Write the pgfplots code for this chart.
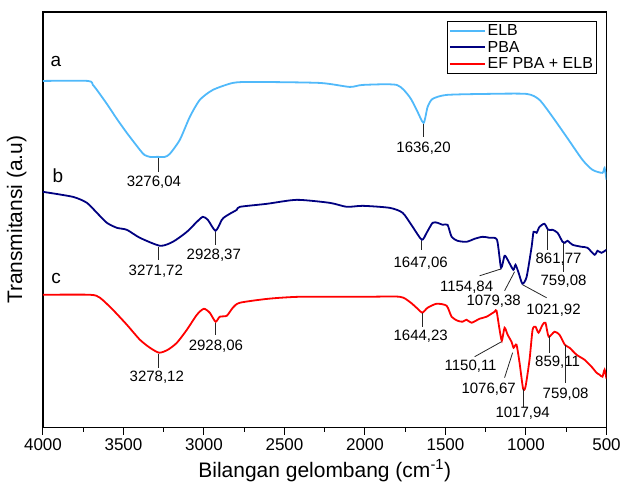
\documentclass[border=0pt]{standalone}
\usepackage{pgfplots}
\pgfplotsset{compat=1.18}
\usepackage{fontspec}
\setmainfont{Liberation Sans}
\definecolor{elb}{RGB}{80,185,250}
\definecolor{pba}{RGB}{0,0,128}
\definecolor{ef}{RGB}{255,0,0}
\begin{document}
\begin{tikzpicture}
\begin{axis}[
  scale only axis, width=564pt, height=416pt,
  xmin=500, xmax=4000, x dir=reverse,
  ymin=-428, ymax=-12,
  ytick=\empty,
  xtick={500,1000,...,4000},
  minor x tick num=1,
  xtick pos=left,
  tick align=outside,
  major tick length=7pt, minor tick length=4pt,
  tick style={black, line width=1pt},
  axis line style={line width=1.2pt},
  /pgf/number format/assume math mode=true,
  /pgf/number format/1000 sep={},
  xticklabel style={font=\fontsize{17}{20}\selectfont},
  xlabel={Bilangan gelombang (cm\textsuperscript{-1})},
  ylabel={Transmitansi (a.u)},
  xlabel style={font=\fontsize{21}{25}\selectfont, at={(axis description cs:0.5,-0.068)}, anchor=north},
  ylabel style={font=\fontsize{21}{25}\selectfont, at={(axis description cs:-0.023,0.5)}, anchor=south},
  legend cell align=left,
  legend style={at={(axis description cs:0.982,0.978)}, anchor=north east, draw=black, line width=0.8pt,
    font=\fontsize{16}{19}\selectfont, inner sep=1pt, row sep=0pt},
  legend image code/.code={\draw[#1] (0pt,0pt) -- (35pt,0pt);},
]
\addplot[elb, line width=1.8pt, smooth, tension=0.4] coordinates {
(4000,-81)(3721,-81)(3690,-85)(3665,-90)(3603,-104)(3541,-119)(3479,-133)(3398,-150)(3370,-155)(3336,-157)(3286,-157)(3243,-157)(3212,-154)(3150,-140)(3088,-117)(3026,-100)(2945,-90)(2821,-83)(2697,-82)(2281,-83)(2095,-87)(2014,-85)(1803,-85)(1723,-97)(1679,-110)(1636,-123)(1611,-107)(1580,-99)(1493,-95)(1250,-94)(996,-94)(916,-100)(835,-117)(748,-137)(649,-160)(587,-170)(525,-173)(512,-168)(500,-180)
};
\addlegendentry{ELB}
\addplot[pba, line width=1.8pt, smooth, tension=0.4] coordinates {
(4000,-192)(3814,-197)(3727,-203)(3665,-213)(3603,-223)(3541,-228)(3479,-230)(3398,-238)(3272,-246)(3193,-242)(3106,-232)(3044,-222)(3007,-217)(2976,-220)(2928,-231)(2889,-220)(2870,-217)(2840,-214)(2796,-210)(2777,-207)(2610,-204)(2424,-200)(2219,-203)(2113,-207)(2014,-206)(1847,-208)(1766,-213)(1704,-227)(1647,-240)(1617,-233)(1580,-223)(1549,-223)(1518,-225)(1487,-225)(1462,-237)(1425,-241)(1369,-242)(1319,-239)(1270,-237)(1226,-238)(1180,-240)(1155,-268)(1133,-256)(1114,-260)(1079,-270)(1065,-265)(1046,-273)(1022,-284)(996,-277)(965,-247)(953,-232)(934,-233)(916,-227)(885,-224)(862,-230)(835,-230)(804,-233)(773,-242)(759,-243)(742,-241)(711,-245)(655,-247)(618,-248)(574,-255)(556,-251)(531,-253)(500,-250)
};
\addlegendentry{PBA}
\addplot[ef, line width=1.8pt, smooth, tension=0.4] coordinates {
(4000,-295)(3708,-295)(3646,-298)(3566,-310)(3479,-325)(3398,-340)(3336,-348)(3278,-353)(3224,-350)(3168,-343)(3106,-330)(3044,-315)(3001,-309)(2964,-313)(2928,-322)(2902,-317)(2858,-316)(2821,-308)(2777,-303)(2600,-299)(2400,-297)(2000,-297)(1785,-297)(1723,-302)(1673,-309)(1644,-313)(1611,-308)(1555,-304)(1493,-306)(1462,-317)(1425,-321)(1394,-322)(1369,-320)(1338,-323)(1288,-319)(1245,-317)(1195,-312)(1183,-311)(1164,-330)(1150,-341)(1133,-328)(1114,-335)(1090,-342)(1077,-348)(1059,-345)(1040,-363)(1018,-389)(1003,-387)(978,-360)(959,-330)(941,-327)(922,-333)(897,-325)(879,-323)(859,-337)(823,-332)(792,-335)(759,-345)(730,-348)(686,-355)(637,-360)(593,-367)(562,-373)(543,-375)(525,-377)(512,-370)(500,-379)
};
\addlegendentry{EF PBA + ELB}
% labels a b c
\node[font=\fontsize{19}{22}\selectfont] at (axis cs:3919,-62) {a};
\node[font=\fontsize{19}{22}\selectfont] at (axis cs:3907,-176) {b};
\node[font=\fontsize{19}{22}\selectfont] at (axis cs:3919,-279) {c};
% annotations
\begin{scope}[black!85, line width=0.8pt, every node/.style={font=\fontsize{15}{18}\selectfont, text=black, inner sep=0pt}]
\draw (axis cs:3285,-158) -- (axis cs:3285,-172);
\node at (axis cs:3311,-182) {3276,04};
\draw (axis cs:1636,-124) -- (axis cs:1636,-137);
\node at (axis cs:1636,-148) {1636,20};
\draw (axis cs:3280,-247) -- (axis cs:3280,-260);
\node at (axis cs:3299,-271) {3271,72};
\draw (axis cs:2926,-232) -- (axis cs:2926,-245);
\node at (axis cs:2939,-255) {2928,37};
\draw (axis cs:1648,-241) -- (axis cs:1648,-250);
\node at (axis cs:1654,-263) {1647,06};
\draw (axis cs:1152,-269) -- (axis cs:1288,-276);
\node at (axis cs:1369,-287) {1154,84};
\draw (axis cs:1071,-272) -- (axis cs:1133,-291);
\node at (axis cs:1201,-301) {1079,38};
\draw (axis cs:1021,-285) -- (axis cs:872,-298);
\node at (axis cs:829,-310) {1021,92};
\draw (axis cs:866,-230) -- (axis cs:866,-250);
\node at (axis cs:798,-259) {861,77};
\draw (axis cs:767,-243) -- (axis cs:767,-272);
\node at (axis cs:767,-281) {759,08};
\draw (axis cs:3286,-354) -- (axis cs:3286,-368);
\node at (axis cs:3293,-378) {3278,12};
\draw (axis cs:2926,-323) -- (axis cs:2926,-335);
\node at (axis cs:2926,-347) {2928,06};
\draw (axis cs:1642,-313) -- (axis cs:1642,-327);
\node at (axis cs:1654,-337) {1644,23};
\draw (axis cs:1152,-342) -- (axis cs:1319,-357);
\node at (axis cs:1344,-367) {1150,11};
\draw (axis cs:1083,-353) -- (axis cs:1133,-378);
\node at (axis cs:1232,-390) {1076,67};
\draw (axis cs:1015,-389) -- (axis cs:1015,-407);
\node at (axis cs:1021,-414) {1017,94};
\draw (axis cs:854,-336) -- (axis cs:854,-353);
\node at (axis cs:804,-363) {859,11};
\draw (axis cs:754,-345) -- (axis cs:754,-383);
\node at (axis cs:754,-395) {759,08};
\end{scope}
\end{axis}
\path ([shift={(-43pt,-59pt)}]current axis.south west) rectangle ([shift={(17pt,12pt)}]current axis.north east);
\end{tikzpicture}
\end{document}
